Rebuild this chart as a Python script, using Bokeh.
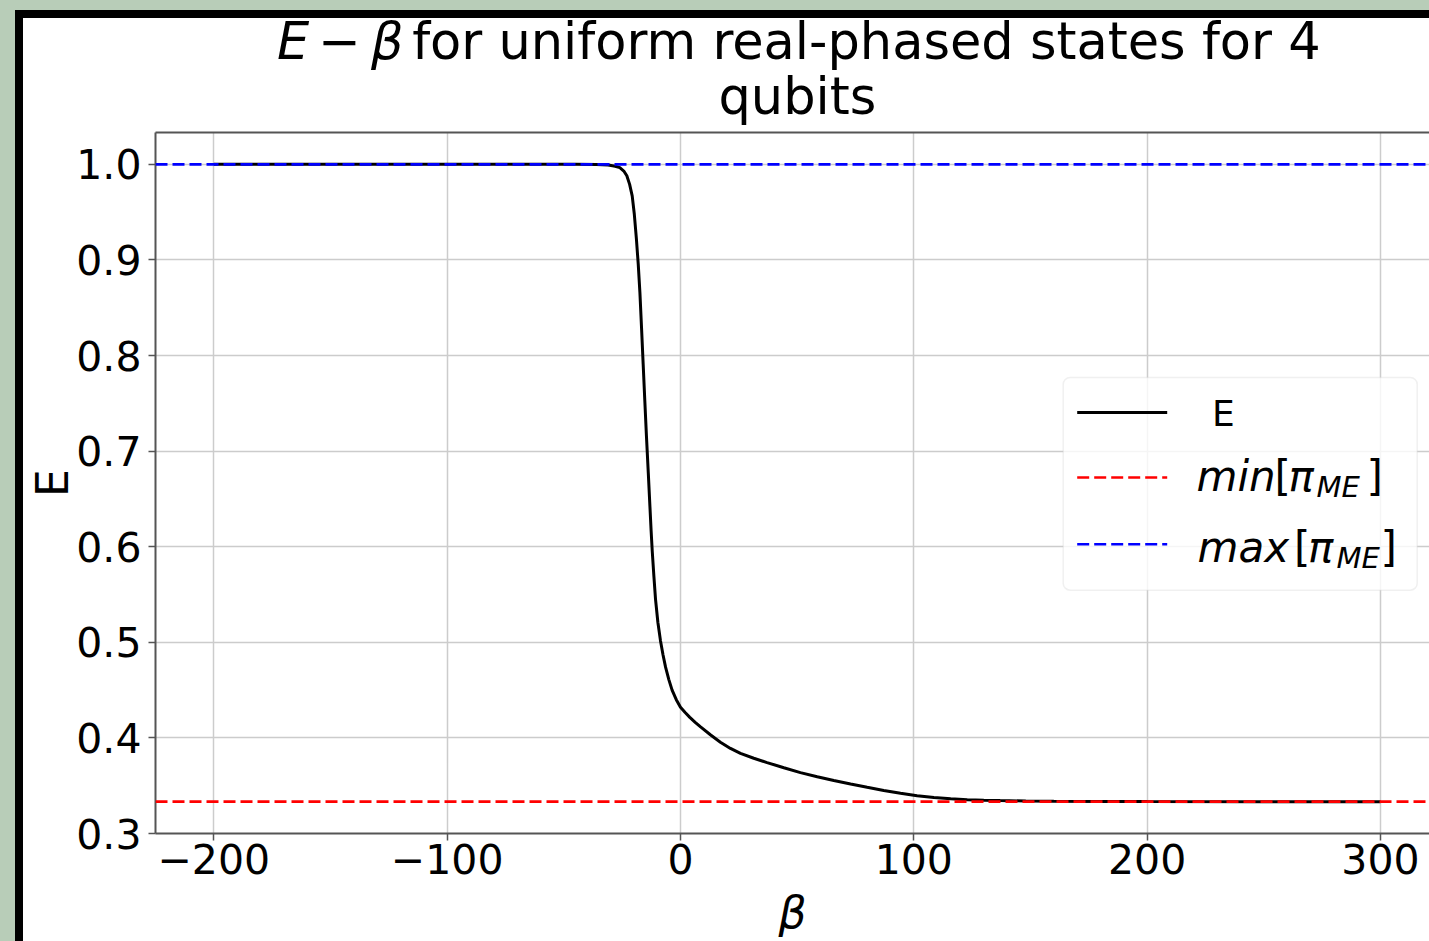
from bokeh.plotting import figure
from bokeh.models import (Range1d, FixedTicker, CustomJSTickFormatter, Span, Label,
                          BoxAnnotation, Arrow, LinearAxis, Div)
from bokeh.layouts import column
from bokeh.embed import file_html
from bokeh.resources import INLINE

# ---------------- data ----------------
beta = [-200, -150, -100, -60, -45, -36, -31, -28, -26, -24.3, -23, -21.8, -20.7, -19.8, -18.9,
        -18.1, -17.4, -16.7, -16.0, -15.3, -14.6, -13.8, -13.1, -12.6, -12.1, -11.4, -10.7,
        -9.7, -8.6, -7.5, -6.4, -5.0, -3.6, -1.8, 0, 2, 4, 6.3, 8.6, 12.8, 17.1, 21.4, 25.7,
        31.4, 37.1, 44.3, 51.4, 58.6, 65.7, 72.9, 80, 87.1, 94.3, 101.4, 108.6, 115.8, 122.9,
        130, 137, 148, 160, 180, 200, 250, 300]
E_vals = [1.0, 1.0, 1.0, 1.0, 1.0, 0.9998, 0.9993, 0.998, 0.9965, 0.993, 0.988, 0.979, 0.967,
          0.948, 0.922, 0.895, 0.866, 0.829, 0.791, 0.753, 0.716, 0.677, 0.642, 0.617, 0.595,
          0.569, 0.545, 0.521, 0.502, 0.487, 0.474, 0.461, 0.450, 0.440, 0.432, 0.4265, 0.4215,
          0.4163, 0.4115, 0.4033, 0.3955, 0.389, 0.3838, 0.3787, 0.3742, 0.3688, 0.3637, 0.3594,
          0.3555, 0.3518, 0.3483, 0.3450, 0.3420, 0.3396, 0.3377, 0.3363, 0.3354, 0.3348, 0.3344,
          0.3340, 0.3337, 0.3335, 0.3334, 0.3333, 0.3333]
min_pi_ME = 0.3333
max_pi_ME = 1.0

x_ticks = [-200, -100, 0, 100, 200, 300]
x_tick_labels = ["\u2212200", "\u2212100", "0", "100", "200", "300"]
y_ticks = [0.3, 0.4, 0.5, 0.6, 0.7, 0.8, 0.9, 1.0]
y_tick_labels = ["0.3", "0.4", "0.5", "0.6", "0.7", "0.8", "0.9", "1.0"]

x_label = "\u03b2"
y_label = "E"
legend_labels = ["E", "min", "max"]

FONT = "DejaVu Sans"
SPINE = "#555555"

# ---------------- title (HTML text above the plot) ----------------
title_html = (
    "<div style=\"position:relative;width:1406px;height:112px;font-family:'DejaVu Sans';"
    "font-size:51px;color:black;white-space:nowrap;background:white;\">"
    "<div style=\"position:absolute;left:254px;top:-2px;line-height:1;\">"
    "<i>E</i><span style=\"margin-left:9px;margin-right:10px;\">\u2212</span><i>\u03b2</i>"
    "<span style=\"margin-left:8.6px;\">for uniform real-phased states for 4</span></div>"
    "<div style=\"position:absolute;left:695.5px;top:53px;line-height:1;\">qubits</div>"
    "</div>"
)
title_div = Div(text=title_html, width=1406, height=112,
                styles={"background-color": "white", "margin": "0", "padding": "0"})

# ---------------- figure ----------------
p = figure(width=1406, height=811,
           x_range=Range1d(-225, 321), y_range=Range1d(0.3, 1.0333),
           output_backend="svg", toolbar_location=None,
           min_border_left=132, min_border_right=0, min_border_top=2, min_border_bottom=108,
           background_fill_color="white", border_fill_color="white",
           outline_line_color=None)

p.line(beta, E_vals, line_color="black", line_width=3)

p.add_layout(Span(location=min_pi_ME, dimension="width", line_color="#ff0000",
                  line_width=2.6, line_dash="12 5"))
p.add_layout(Span(location=max_pi_ME, dimension="width", line_color="#0000ff",
                  line_width=2.6, line_dash="12 5"))

xa = p.below[0]
ya = p.left[0]
xa.ticker = FixedTicker(ticks=x_ticks)
ya.ticker = FixedTicker(ticks=y_ticks)
fmt_code = "const i = tv.indexOf(tick); return i < 0 ? '' : tl[i];"
xa.formatter = CustomJSTickFormatter(args=dict(tv=x_ticks, tl=x_tick_labels), code=fmt_code)
ya.formatter = CustomJSTickFormatter(args=dict(tv=y_ticks, tl=y_tick_labels), code=fmt_code)

for ax in (xa, ya):
    ax.axis_line_color = SPINE
    ax.axis_line_width = 2
    ax.major_tick_out = 7
    ax.major_tick_in = 0
    ax.major_tick_line_color = SPINE
    ax.major_tick_line_width = 1.5
    ax.minor_tick_line_color = None
    ax.major_label_text_font = FONT
    ax.major_label_text_font_size = "41px"
    ax.major_label_text_color = "black"
    ax.axis_label_text_font = FONT
    ax.axis_label_text_font_size = "44px"
    ax.axis_label_text_color = "black"

xa.axis_label = x_label
xa.axis_label_text_font_style = "italic"
xa.major_label_standoff = 3
xa.axis_label_standoff = 10
ya.axis_label = y_label
ya.axis_label_text_font_style = "normal"
ya.major_label_standoff = 7
ya.axis_label_standoff = -5

p.xgrid.grid_line_color = "#cccccc"
p.xgrid.grid_line_width = 1.5
p.ygrid.grid_line_color = "#cccccc"
p.ygrid.grid_line_width = 1.5

# top spine
top = LinearAxis(ticker=FixedTicker(ticks=[]), axis_line_color=SPINE, axis_line_width=2,
                 major_tick_line_color=None, minor_tick_line_color=None,
                 major_tick_out=0, major_tick_in=0, major_label_standoff=0,
                 major_label_text_font_size="0px")
p.add_layout(top, "above")

# ---------------- legend (manual, frame-relative screen units) ----------------
FL, FB = 155.0, 833.3   # frame left / bottom in page px


def lab(text, X, Y, size_px, style="normal"):
    # empirical shift so that the alphabetic baseline lands on Y
    return Label(x=X - FL, y=FB - Y + 0.38 * size_px, x_units="screen", y_units="screen",
                 text=text, text_font=FONT, text_font_size=f"{size_px}px",
                 text_font_style=style, text_color="black", text_align="left",
                 text_baseline="alphabetic")


p.add_layout(BoxAnnotation(left=1062.7 - FL, right=1416.7 - FL, top=FB - 377.3, bottom=FB - 590,
                           left_units="screen", right_units="screen",
                           top_units="screen", bottom_units="screen",
                           fill_color="white", fill_alpha=0.8,
                           line_color="#cccccc", line_width=1.5, border_radius=7))

for yy, col, dash, lw in [(412.3, "black", "solid", 3), (477.3, "#ff0000", "12 5", 2.6),
                          (544.0, "#0000ff", "12 5", 2.6)]:
    p.add_layout(Arrow(end=None, x_start=1076.7 - FL, y_start=FB - yy, x_end=1166.7 - FL,
                       y_end=FB - yy, start_units="screen", end_units="screen",
                       line_color=col, line_width=lw, line_dash=dash))

p.add_layout(lab(legend_labels[0], 1211.5, 426.7, 36))
MS, SS = 42, 29
for word, Y, xs in [(legend_labels[1], 492.5, (1196, 1274, 1288, 1316, 1366)),
                    (legend_labels[2], 563.0, (1197, 1293.5, 1307.5, 1336, 1380))]:
    p.add_layout(lab(word, xs[0], Y, MS, "italic"))
    p.add_layout(lab("[", xs[1], Y, MS, "normal"))
    p.add_layout(lab("\u03c0", xs[2], Y, MS, "italic"))
    p.add_layout(lab("ME", xs[3], Y + 5.8, SS, "italic"))
    p.add_layout(lab("]", xs[4], Y, MS, "normal"))

# ---------------- page frame (sage background + black border) ----------------
inner = column(title_div, p, spacing=0,
               styles={"background-color": "white", "border-left": "8px solid black",
                       "border-top": "8px solid black"})
outer = column(inner, styles={"background-color": "#b8cdb8", "padding": "10px 0px 0px 15px"})

open("out.html", "w").write(file_html(outer, INLINE))
